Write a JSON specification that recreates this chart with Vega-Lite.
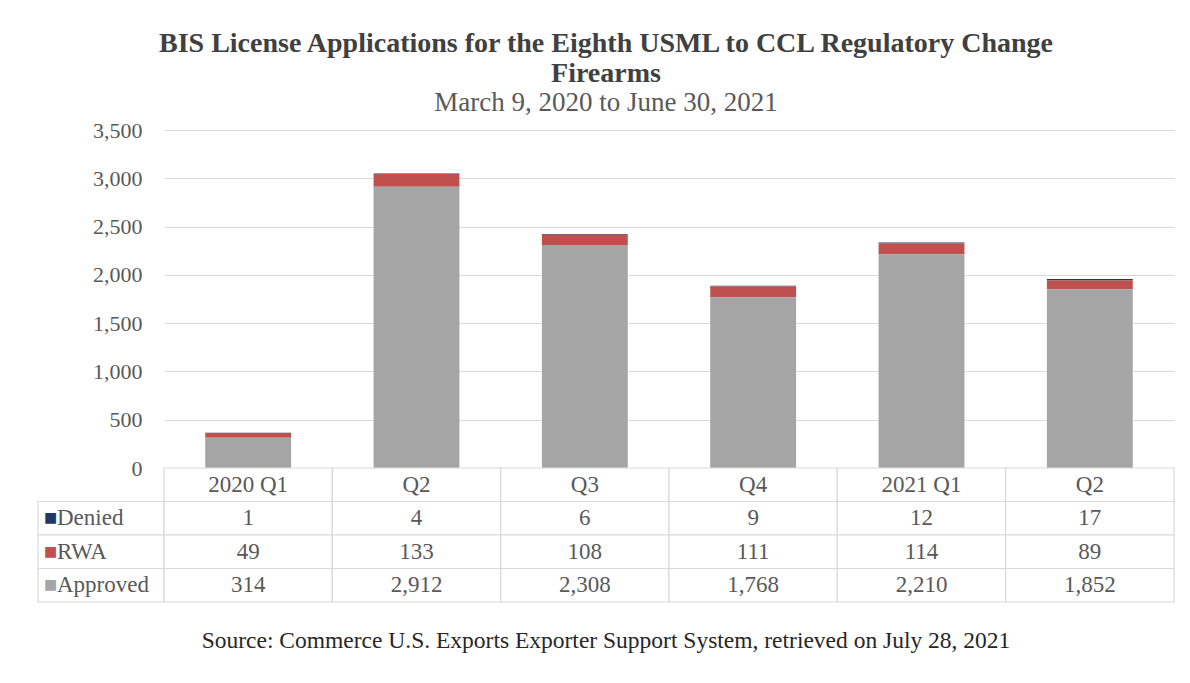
{
  "$schema": "https://vega.github.io/schema/vega-lite/v6.json",
  "background": "white",
  "padding": {"left": 37, "top": 30, "right": 17, "bottom": 20},
  "title": {
    "text": ["BIS License Applications for the Eighth USML to CCL Regulatory Change", "Firearms"],
    "subtitle": "March 9, 2020 to June 30, 2021",
    "anchor": "middle",
    "font": "Liberation Serif",
    "fontSize": 28,
    "fontWeight": "bold",
    "color": "#404040",
    "lineHeight": 30,
    "subtitleFont": "Liberation Serif",
    "subtitleFontSize": 27,
    "subtitleColor": "#595959",
    "subtitlePadding": 2,
    "offset": 3
  },
  "datasets": {
    "apps": [
      {"key": "2020Q1", "label": "2020 Q1", "series": "Denied", "value": 1},
      {"key": "2020Q1", "label": "2020 Q1", "series": "RWA", "value": 49},
      {"key": "2020Q1", "label": "2020 Q1", "series": "Approved", "value": 314},
      {"key": "2020Q2", "label": "Q2", "series": "Denied", "value": 4},
      {"key": "2020Q2", "label": "Q2", "series": "RWA", "value": 133},
      {"key": "2020Q2", "label": "Q2", "series": "Approved", "value": 2912},
      {"key": "2020Q3", "label": "Q3", "series": "Denied", "value": 6},
      {"key": "2020Q3", "label": "Q3", "series": "RWA", "value": 108},
      {"key": "2020Q3", "label": "Q3", "series": "Approved", "value": 2308},
      {"key": "2020Q4", "label": "Q4", "series": "Denied", "value": 9},
      {"key": "2020Q4", "label": "Q4", "series": "RWA", "value": 111},
      {"key": "2020Q4", "label": "Q4", "series": "Approved", "value": 1768},
      {"key": "2021Q1", "label": "2021 Q1", "series": "Denied", "value": 12},
      {"key": "2021Q1", "label": "2021 Q1", "series": "RWA", "value": 114},
      {"key": "2021Q1", "label": "2021 Q1", "series": "Approved", "value": 2210},
      {"key": "2021Q2", "label": "Q2", "series": "Denied", "value": 17},
      {"key": "2021Q2", "label": "Q2", "series": "RWA", "value": 89},
      {"key": "2021Q2", "label": "Q2", "series": "Approved", "value": 1852}
    ]
  },
  "spacing": 25,
  "vconcat": [
    {
      "columns": 2,
      "spacing": 0,
      "bounds": "flush",
      "concat": [
        {
          "width": 126,
          "height": 338,
          "data": {"values": []},
          "mark": "point"
        },
        {
          "width": 1010,
          "height": 338,
          "data": {"name": "apps"},
          "mark": {"type": "bar"},
          "encoding": {
            "x": {
              "field": "key",
              "type": "nominal",
              "sort": null,
              "scale": {"paddingInner": 0.49, "paddingOuter": 0.245},
              "axis": null
            },
            "y": {
              "field": "value",
              "type": "quantitative",
              "stack": "zero",
              "scale": {"domain": [0, 3500]},
              "axis": {
                "values": [0, 500, 1000, 1500, 2000, 2500, 3000, 3500],
                "format": ",.0f",
                "title": null,
                "domain": false,
                "ticks": false,
                "gridColor": "#d9d9d9",
                "gridWidth": 1.2,
                "labelFont": "Liberation Serif",
                "labelFontSize": 22,
                "labelColor": "#595959",
                "labelPadding": 22
              }
            },
            "color": {
              "field": "series",
              "type": "nominal",
              "scale": {
                "domain": ["Approved", "RWA", "Denied"],
                "range": ["#a5a5a5", "#c0504d", "#1f3864"]
              },
              "legend": null
            },
            "order": {"field": "value", "type": "quantitative", "sort": "descending"}
          }
        },
        {
          "width": 126,
          "height": 134,
          "data": {"name": "apps"},
          "transform": [{"filter": "datum.key == '2020Q1'"}],
          "encoding": {
            "y": {
              "field": "series",
              "type": "nominal",
              "scale": {
                "domain": ["Header", "Denied", "RWA", "Approved"],
                "paddingInner": 0,
                "paddingOuter": 0
              },
              "axis": null
            }
          },
          "layer": [
            {
              "mark": {"type": "rect", "fill": "white", "stroke": "#d9d9d9", "strokeWidth": 1.2}
            },
            {
              "mark": {"type": "text", "text": "■", "align": "left", "baseline": "middle", "dx": -57, "fontSize": 14, "font": "DejaVu Sans"},
              "encoding": {
                "color": {"field": "series", "type": "nominal", "legend": null}
              }
            },
            {
              "mark": {"type": "text", "align": "left", "baseline": "middle", "dx": -44, "font": "Liberation Serif", "fontSize": 23, "color": "#595959"},
              "encoding": {
                "text": {"field": "series", "type": "nominal"}
              }
            }
          ]
        },
        {
          "width": 1010,
          "height": 134,
          "data": {"name": "apps"},
          "encoding": {
            "x": {
              "field": "key",
              "type": "nominal",
              "sort": null,
              "scale": {"paddingInner": 0, "paddingOuter": 0},
              "axis": null
            }
          },
          "layer": [
            {
              "mark": {"type": "rect", "fill": "white", "stroke": "#d9d9d9", "strokeWidth": 1.2},
              "encoding": {
                "y": {
                  "field": "series",
                  "type": "nominal",
                  "scale": {
                    "domain": ["Header", "Denied", "RWA", "Approved"],
                    "paddingInner": 0,
                    "paddingOuter": 0
                  },
                  "axis": null
                }
              }
            },
            {
              "transform": [{"filter": "datum.series == 'Approved'"}],
              "mark": {"type": "rect", "fill": "white", "stroke": "#d9d9d9", "strokeWidth": 1.2},
              "encoding": {
                "y": {"datum": "Header", "type": "nominal"}
              }
            },
            {
              "mark": {"type": "text", "baseline": "middle", "font": "Liberation Serif", "fontSize": 23, "color": "#595959"},
              "encoding": {
                "y": {"field": "series", "type": "nominal"},
                "text": {"field": "value", "type": "quantitative", "format": ",.0f"}
              }
            },
            {
              "transform": [{"filter": "datum.series == 'Approved'"}],
              "mark": {"type": "text", "baseline": "middle", "font": "Liberation Serif", "fontSize": 23, "color": "#595959"},
              "encoding": {
                "y": {"datum": "Header", "type": "nominal"},
                "text": {"field": "label", "type": "nominal"}
              }
            }
          ]
        }
      ]
    },
    {
      "width": 1136,
      "height": 1,
      "data": {"values": []},
      "mark": "point",
      "title": {
        "text": "Source: Commerce U.S. Exports Exporter Support System, retrieved on July 28, 2021",
        "orient": "top",
        "anchor": "middle",
        "font": "Liberation Serif",
        "fontSize": 23.5,
        "fontWeight": "normal",
        "color": "#262626",
        "offset": 0
      }
    }
  ],
  "config": {
    "view": {"stroke": null},
    "font": "Liberation Serif"
  }
}
